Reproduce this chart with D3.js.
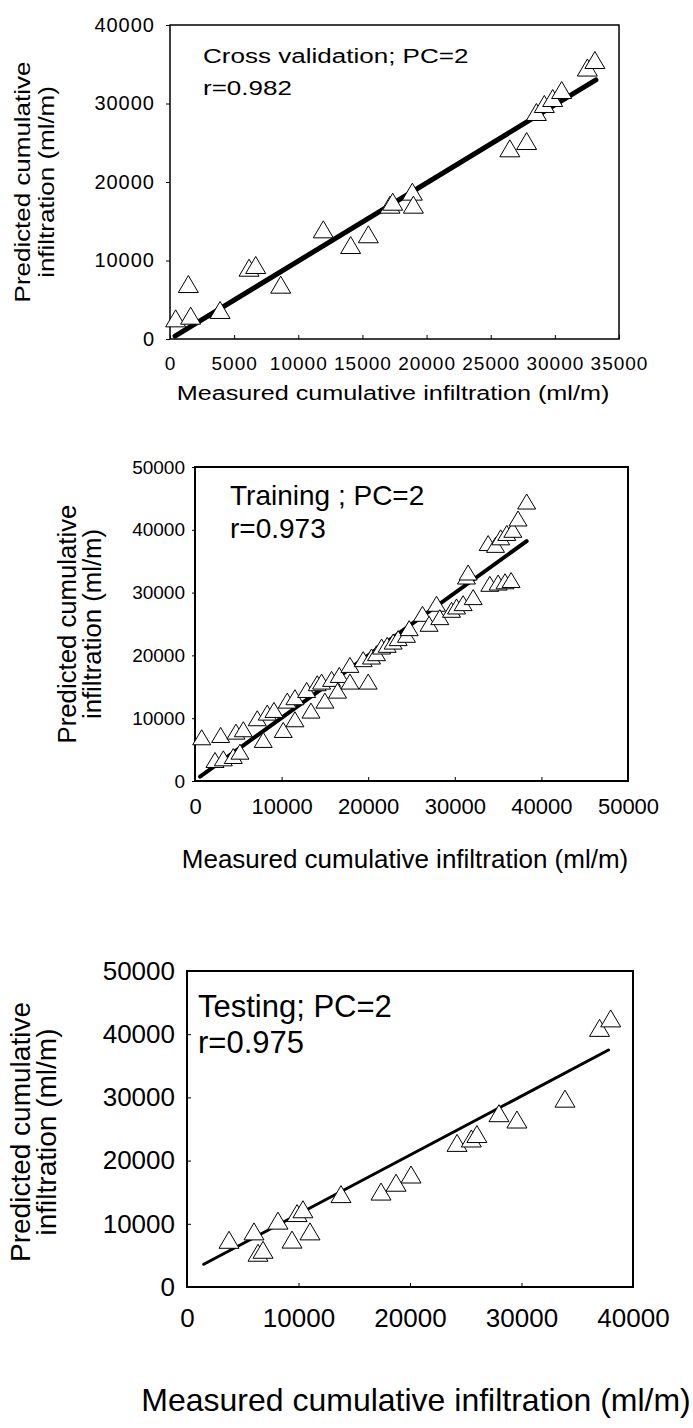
<!DOCTYPE html>
<html>
<head>
<meta charset="utf-8">
<script src="https://cdn.jsdelivr.net/npm/d3@7"></script>
<style>
  body { margin: 0; background: #fff; }
  text { font-family: "Liberation Sans", Arial, sans-serif; fill: #000; }
</style>
</head>
<body>
<div id="chart"></div>
<script>
// ---- data ----
const cvMeasured  = [440, 1430, 1610, 3900, 6160, 6680, 8630, 11950, 14080, 15460, 17150, 17360, 18890, 18970, 26490, 27800, 28560, 29180, 29830, 30530, 32530, 33120];
const cvPredicted = [2630, 7000, 2970, 3700, 9080, 9430, 6920, 13970, 11970, 13340, 17110, 17490, 18770, 17110, 24290, 25220, 28920, 29940, 30700, 31720, 34580, 35540];
const cvFitX = [390, 33200];
const cvFitY = [380, 33000];

const trainMeasured  = [770, 2310, 2960, 3270, 4420, 4730, 5190, 5580, 7190, 7880, 8340, 9120, 10190, 10650, 11540, 11540, 12890, 13390, 14110, 14620, 15000, 15770, 16460, 16660, 17890, 17890, 20000, 19420, 20380, 20960, 21540, 22190, 22880, 23460, 24420, 24730, 26270, 27030, 27890, 28270, 29620, 30200, 30960, 31350, 31540, 32120, 33850, 34040, 34700, 35300, 36000, 36700, 37300, 38300, 35000, 35800, 36500];
const trainPredicted = [6960, 3350, 7330, 3610, 3980, 7860, 4670, 8240, 9990, 6540, 10890, 11320, 8130, 12800, 13340, 9830, 14500, 11210, 15570, 15830, 12800, 16260, 14390, 16890, 18490, 15830, 15830, 19400, 19820, 20350, 21410, 21680, 22200, 22750, 23280, 24340, 26620, 25030, 28220, 26090, 27260, 27790, 28320, 32560, 33200, 29280, 37890, 31400, 37600, 38800, 39500, 40000, 41800, 44500, 31600, 31800, 32000];
const trainFitX = [580, 38300];
const trainFitY = [690, 38200];

const testMeasured  = [3770, 6010, 6370, 6820, 8160, 9420, 9870, 10400, 11030, 13810, 17400, 18750, 20090, 24220, 25500, 26000, 27980, 29590, 33900, 37000, 38000];
const testPredicted = [7470, 8800, 5420, 5890, 10500, 7500, 11700, 12300, 8800, 14700, 15100, 16500, 17800, 22800, 23500, 24200, 27500, 26500, 29800, 41000, 42500];
const testFitX = [1500, 37800];
const testFitY = [3600, 37500];

const cvXTicks = [0, 5000, 10000, 15000, 20000, 25000, 30000, 35000];
const cvYTicks = [0, 10000, 20000, 30000, 40000];
const trainXTicks = [0, 10000, 20000, 30000, 40000, 50000];
const trainYTicks = [0, 10000, 20000, 30000, 40000, 50000];
const testXTicks = [0, 10000, 20000, 30000, 40000];
const testYTicks = [0, 10000, 20000, 30000, 40000, 50000];

const xTitle = "Measured cumulative infiltration (ml/m)";
const yTitle = ["Predicted cumulative", "infiltration (ml/m)"];

const svg = d3.select("#chart").append("svg")
  .attr("width", 693)
  .attr("height", 1428);

function tri(w, h) {
  return "M0," + (-h / 2) + "L" + (w / 2) + "," + (h / 2) + "L" + (-w / 2) + "," + (h / 2) + "Z";
}

function drawPanel(p) {
  const x = d3.scaleLinear().domain(p.xDomain).range([p.left, p.right]);
  const y = d3.scaleLinear().domain(p.yDomain).range([p.bottom, p.top]);
  const g = svg.append("g");

  const xAxis = d3.axisBottom(x).tickValues(p.xTicks).tickFormat(d3.format("d"))
    .tickSizeInner(p.xTickSize).tickSizeOuter(0).tickPadding(p.xPad);
  const yAxis = d3.axisLeft(y).tickValues(p.yTicks).tickFormat(d3.format("d"))
    .tickSizeInner(p.yTickSize).tickSizeOuter(0).tickPadding(p.yPad);

  const gx = g.append("g").attr("transform", "translate(0," + p.bottom + ")").call(xAxis);
  const gy = g.append("g").attr("transform", "translate(" + p.left + ",0)").call(yAxis);
  [gx, gy].forEach(a => {
    a.select(".domain").remove();
    a.selectAll("line").attr("stroke", "#000").attr("stroke-width", 1);
    a.selectAll("text").attr("font-family", null);
  });
  gx.selectAll("text").attr("font-size", p.xFont).attr("letter-spacing", p.tickSpacing);
  gy.selectAll("text").attr("font-size", p.yFont).attr("letter-spacing", p.tickSpacing);

  g.append("rect")
    .attr("x", p.left).attr("y", p.top)
    .attr("width", p.right - p.left).attr("height", p.bottom - p.top)
    .attr("fill", "none").attr("stroke", "#000").attr("stroke-width", p.frameWidth);

  // fitted line
  const line = d3.line().x(d => x(d[0])).y(d => y(d[1]));
  g.append("path")
    .datum(d3.zip(p.fitX, p.fitY))
    .attr("d", line)
    .attr("fill", "none").attr("stroke", "#000")
    .attr("stroke-width", p.lineWidth).attr("stroke-linecap", "round");

  g.selectAll(".pt")
    .data(d3.zip(p.measured, p.predicted))
    .enter().append("path")
    .attr("class", "pt")
    .attr("transform", d => "translate(" + x(d[0]) + "," + y(d[1]) + ")")
    .attr("d", tri(p.markW, p.markH))
    .attr("fill", "#fff").attr("stroke", "#000").attr("stroke-width", 1);

  // in-plot labels
  p.notes.forEach((t, i) => {
    g.append("text")
      .attr("transform", "translate(" + p.noteX + "," + p.noteY[i] + ") scale(" + p.noteSx + ",1)")
      .attr("font-size", p.noteFont)
      .text(t);
  });

  g.append("text")
    .attr("transform", "translate(" + p.xTitleX + "," + p.xTitleY + ") scale(" + p.xTitleSx + ",1)")
    .attr("text-anchor", "middle")
    .attr("font-size", p.xTitleFont)
    .text(xTitle);

  const cy = p.yTitleCY;
  yTitle.forEach((t, i) => {
    g.append("text")
      .attr("transform", "translate(" + p.yTitleX[i] + "," + cy + ") rotate(-90) scale(" + p.yTitleSx + ",1)")
      .attr("text-anchor", "middle")
      .attr("font-size", p.yTitleFont)
      .text(t);
  });
}

drawPanel({
  left: 170, right: 619, top: 25, bottom: 339,
  xDomain: [0, 35000], yDomain: [0, 40000],
  xTicks: cvXTicks, yTicks: cvYTicks,
  xTickSize: -4, yTickSize: 4, xPad: 18, yPad: 11,
  xFont: 19, yFont: 20, tickSpacing: 1,
  frameWidth: 1.5, lineWidth: 5, markW: 20, markH: 17,
  measured: cvMeasured, predicted: cvPredicted, fitX: cvFitX, fitY: cvFitY,
  notes: ["Cross validation; PC=2", "r=0.982"], noteX: 203, noteY: [63, 95], noteFont: 21, noteSx: 1.24,
  xTitleX: 393, xTitleY: 400, xTitleFont: 21, xTitleSx: 1.2,
  yTitleX: [30, 54], yTitleCY: 182, yTitleFont: 22, yTitleSx: 1.18
});

drawPanel({
  left: 195, right: 628, top: 467, bottom: 781,
  xDomain: [0, 50000], yDomain: [0, 50000],
  xTicks: trainXTicks, yTicks: trainYTicks,
  xTickSize: -4, yTickSize: 3, xPad: 17, yPad: 7,
  xFont: 22, yFont: 19, tickSpacing: 0,
  frameWidth: 2, lineWidth: 4, markW: 18, markH: 15,
  measured: trainMeasured, predicted: trainPredicted, fitX: trainFitX, fitY: trainFitY,
  notes: ["Training ; PC=2", "r=0.973"], noteX: 230, noteY: [505, 538], noteFont: 28, noteSx: 1,
  xTitleX: 405, xTitleY: 868, xTitleFont: 26, xTitleSx: 1,
  yTitleX: [76, 101], yTitleCY: 624, yTitleFont: 25, yTitleSx: 1.03
});

drawPanel({
  left: 187, right: 633, top: 971, bottom: 1287,
  xDomain: [0, 40000], yDomain: [0, 50000],
  xTicks: testXTicks, yTicks: testYTicks,
  xTickSize: -4, yTickSize: -4, xPad: 22, yPad: 12,
  xFont: 26, yFont: 26, tickSpacing: 0,
  frameWidth: 2, lineWidth: 3, markW: 20, markH: 17,
  measured: testMeasured, predicted: testPredicted, fitX: testFitX, fitY: testFitY,
  notes: ["Testing; PC=2", "r=0.975"], noteX: 198, noteY: [1017, 1053], noteFont: 31, noteSx: 1,
  xTitleX: 416, xTitleY: 1411, xTitleFont: 32, xTitleSx: 1,
  yTitleX: [30, 56], yTitleCY: 1132, yTitleFont: 28, yTitleSx: 1
});
</script>
</body>
</html>
